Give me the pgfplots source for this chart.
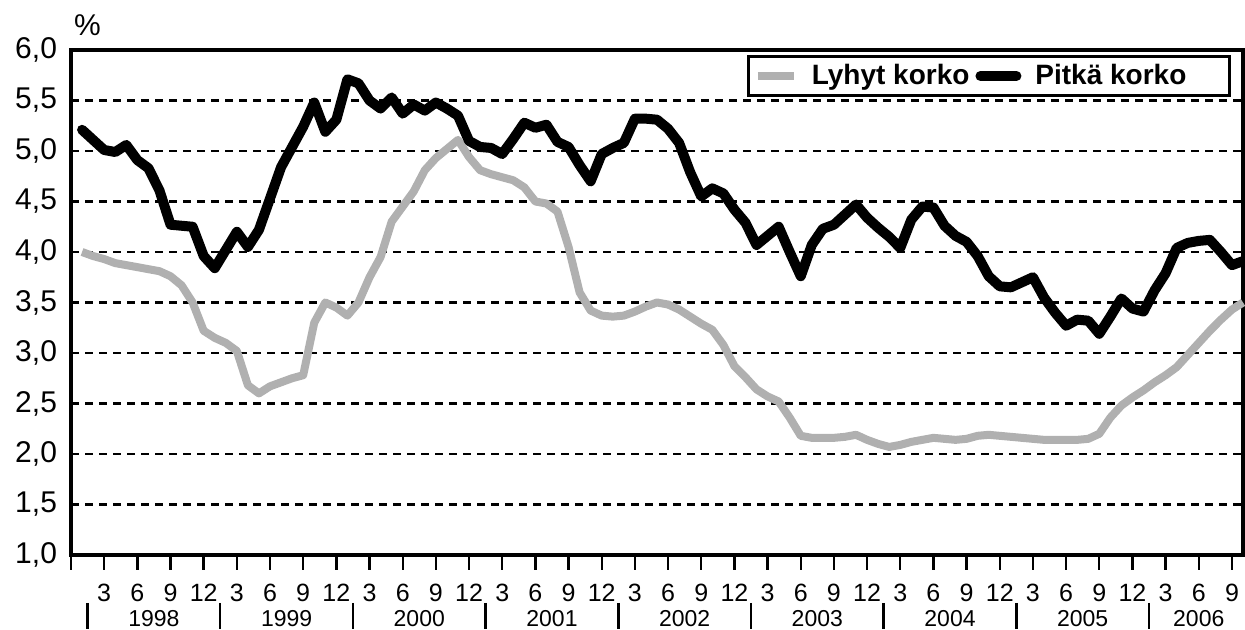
\documentclass[border=0pt]{standalone}
\usepackage{fontspec}
\setmainfont{Liberation Sans}
\usepackage{pgfplots}
\pgfplotsset{compat=1.18}
\begin{document}
\begin{tikzpicture}
\useasboundingbox (-35.5pt,-37.5pt) rectangle (587pt,277.5pt);
\begin{axis}[
  scale only axis, width=586pt, height=252.5pt,
  at={(0,0)}, anchor=south west,
  xmin=0, xmax=106, ymin=1, ymax=6,
  clip=false,
  axis line style={line width=1.6pt},
  ytick={1,1.5,2,2.5,3,3.5,4,4.5,5,5.5,6},
  ymajorgrids,
  major grid style={dash pattern=on 4pt off 3pt, line width=1.1pt, black},
  ytick style={draw=none},
  xtick={0,3,...,105},
  xticklabels={{},3,6,9,12,3,6,9,12,3,6,9,12,3,6,9,12,3,6,9,12,3,6,9,12,3,6,9,12,3,6,9,12,3,6,9},
  xtick pos=bottom, ytick pos=left,
  tick align=outside, major tick length=7.5pt,
  xtick style={line width=1.2pt, black},
  xticklabel style={font=\fontsize{12.5}{13}\selectfont, yshift=-3.5pt},
  yticklabel style={font=\fontsize{15}{17}\selectfont, xshift=4pt,
     /pgf/number format/.cd, use comma, fixed, fixed zerofill, precision=1, assume math mode=true},
  legend style={at={(rel axis cs:0.9895,0.99)}, anchor=north east, legend columns=-1,
     draw=black, line width=1.3pt, font=\bfseries\fontsize{14}{16}\selectfont,
     inner ysep=2pt, inner xsep=2.5pt,
     /tikz/every odd column/.append style={column sep=5pt},
     /tikz/every even column/.append style={column sep=1pt}},
  legend image code/.code={\draw[#1] (0pt,0pt) -- (18pt,0pt);},
]
\addplot[gray!62, line width=4pt, line join=round] coordinates {
(1,4.00)(2,3.96)(3,3.93)(4,3.89)(5,3.87)(6,3.85)(7,3.83)(8,3.81)(9,3.76)(10,3.67)
(11,3.50)(12,3.22)(13,3.15)(14,3.10)(15,3.02)(16,2.68)(17,2.60)(18,2.67)(19,2.71)(20,2.75)
(21,2.78)(22,3.30)(23,3.50)(24,3.45)(25,3.37)(26,3.50)(27,3.75)(28,3.95)(29,4.30)(30,4.45)
(31,4.60)(32,4.81)(33,4.93)(34,5.02)(35,5.11)(36,4.94)(37,4.81)(38,4.77)(39,4.74)(40,4.71)
(41,4.64)(42,4.50)(43,4.48)(44,4.40)(45,4.05)(46,3.60)(47,3.42)(48,3.37)(49,3.36)(50,3.37)
(51,3.41)(52,3.46)(53,3.50)(54,3.48)(55,3.43)(56,3.36)(57,3.29)(58,3.23)(59,3.08)(60,2.87)
(61,2.76)(62,2.64)(63,2.57)(64,2.52)(65,2.36)(66,2.18)(67,2.16)(68,2.16)(69,2.16)(70,2.17)
(71,2.19)(72,2.14)(73,2.10)(74,2.07)(75,2.09)(76,2.12)(77,2.14)(78,2.16)(79,2.15)(80,2.14)
(81,2.15)(82,2.18)(83,2.19)(84,2.18)(85,2.17)(86,2.16)(87,2.15)(88,2.14)(89,2.14)(90,2.14)
(91,2.14)(92,2.15)(93,2.20)(94,2.36)(95,2.48)(96,2.56)(97,2.63)(98,2.71)(99,2.78)(100,2.86)
(101,2.98)(102,3.10)(103,3.22)(104,3.33)(105,3.43)(106,3.50)
};
\addlegendentry{Lyhyt korko}
\addplot[black, line width=5pt, line join=round, line cap=round] coordinates {
(1,5.21)(2,5.11)(3,5.01)(4,4.99)(5,5.06)(6,4.91)(7,4.83)(8,4.61)(9,4.27)(10,4.26)
(11,4.25)(12,3.96)(13,3.84)(14,4.02)(15,4.20)(16,4.05)(17,4.22)(18,4.53)(19,4.84)(20,5.04)
(21,5.24)(22,5.48)(23,5.19)(24,5.31)(25,5.71)(26,5.67)(27,5.50)(28,5.42)(29,5.53)(30,5.37)
(31,5.46)(32,5.40)(33,5.48)(34,5.42)(35,5.35)(36,5.10)(37,5.04)(38,5.03)(39,4.97)(40,5.12)
(41,5.28)(42,5.23)(43,5.26)(44,5.09)(45,5.04)(46,4.86)(47,4.70)(48,4.97)(49,5.03)(50,5.08)
(51,5.32)(52,5.32)(53,5.31)(54,5.22)(55,5.08)(56,4.79)(57,4.55)(58,4.63)(59,4.58)(60,4.42)
(61,4.29)(62,4.07)(63,4.16)(64,4.25)(65,4.00)(66,3.76)(67,4.07)(68,4.23)(69,4.27)(70,4.37)
(71,4.47)(72,4.34)(73,4.24)(74,4.15)(75,4.04)(76,4.32)(77,4.45)(78,4.44)(79,4.26)(80,4.16)
(81,4.10)(82,3.96)(83,3.76)(84,3.66)(85,3.65)(86,3.70)(87,3.75)(88,3.55)(89,3.40)(90,3.27)
(91,3.33)(92,3.32)(93,3.19)(94,3.36)(95,3.54)(96,3.44)(97,3.41)(98,3.62)(99,3.79)(100,4.04)
(101,4.09)(102,4.11)(103,4.12)(104,4.00)(105,3.87)(106,3.91)
};
\addlegendentry{Pitkä korko\rule{17pt}{0pt}}
% percent sign
\node[font=\fontsize{15}{17}\selectfont] at (axis cs:1.5,6.25) {\%};
% year labels
\node[font=\fontsize{11.5}{13}\selectfont] at (axis cs:7.5,0.37) {1998};
\node[font=\fontsize{11.5}{13}\selectfont] at (axis cs:19.5,0.37) {1999};
\node[font=\fontsize{11.5}{13}\selectfont] at (axis cs:31.5,0.37) {2000};
\node[font=\fontsize{11.5}{13}\selectfont] at (axis cs:43.5,0.37) {2001};
\node[font=\fontsize{11.5}{13}\selectfont] at (axis cs:55.5,0.37) {2002};
\node[font=\fontsize{11.5}{13}\selectfont] at (axis cs:67.5,0.37) {2003};
\node[font=\fontsize{11.5}{13}\selectfont] at (axis cs:79.5,0.37) {2004};
\node[font=\fontsize{11.5}{13}\selectfont] at (axis cs:91.5,0.37) {2005};
\node[font=\fontsize{11.5}{13}\selectfont] at (axis cs:102,0.37) {2006};
% year separators
\draw[line width=1.2pt] (axis cs:1.5,0.525) -- (axis cs:1.5,0.27);
\draw[line width=1.2pt] (axis cs:13.5,0.525) -- (axis cs:13.5,0.27);
\draw[line width=1.2pt] (axis cs:25.5,0.525) -- (axis cs:25.5,0.27);
\draw[line width=1.2pt] (axis cs:37.5,0.525) -- (axis cs:37.5,0.27);
\draw[line width=1.2pt] (axis cs:49.5,0.525) -- (axis cs:49.5,0.27);
\draw[line width=1.2pt] (axis cs:61.5,0.525) -- (axis cs:61.5,0.27);
\draw[line width=1.2pt] (axis cs:73.5,0.525) -- (axis cs:73.5,0.27);
\draw[line width=1.2pt] (axis cs:85.5,0.525) -- (axis cs:85.5,0.27);
\draw[line width=1.2pt] (axis cs:97.5,0.525) -- (axis cs:97.5,0.27);
\end{axis}
\end{tikzpicture}
\end{document}
